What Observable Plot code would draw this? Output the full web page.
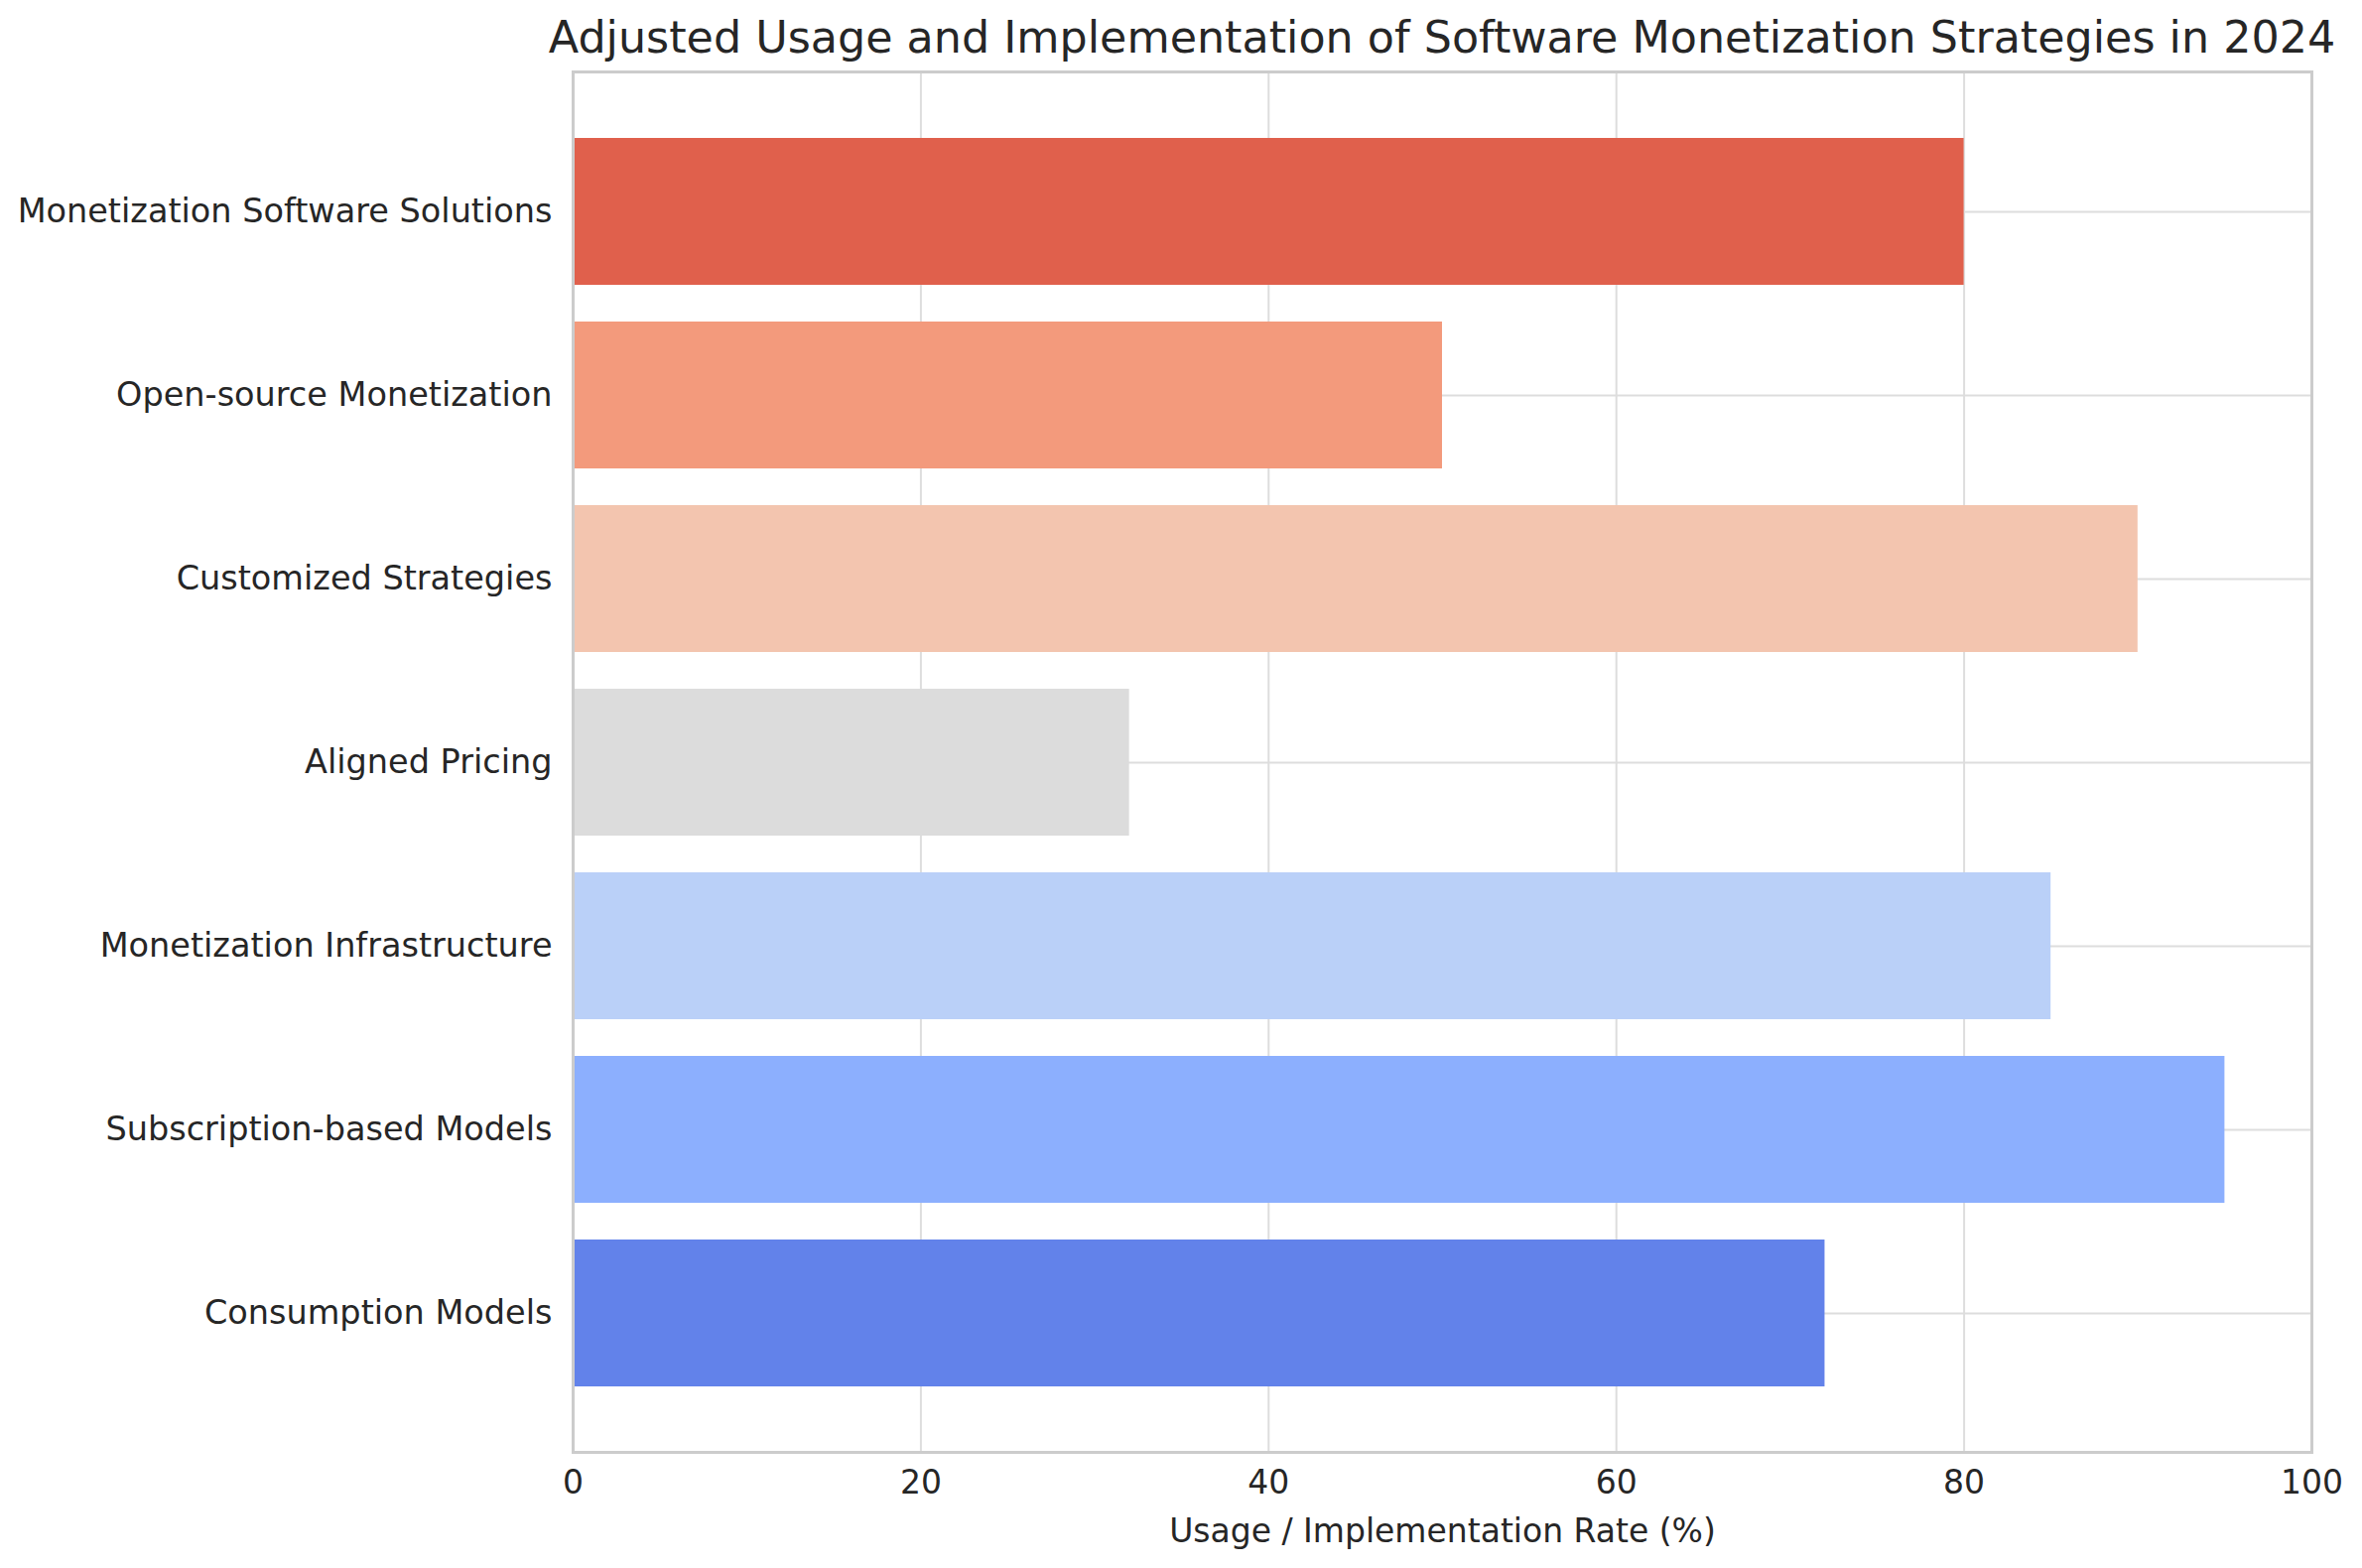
<!DOCTYPE html>
<html>
<head>
<meta charset="utf-8">
<script src="https://cdn.jsdelivr.net/npm/d3@7"></script>
<script src="https://cdn.jsdelivr.net/npm/@observablehq/plot@0.6"></script>
<style>
  html, body { margin: 0; padding: 0; background: #ffffff; }
  #wrap { position: relative; width: 2380px; height: 1580px; font-family: "DejaVu Sans", sans-serif; color: #262626; }
  #title { position: absolute; left: 453px; width: 2000px; top: 9px; text-align: center; font-size: 44.4px; line-height: 58px; white-space: nowrap; color: #262626; }
  #chart { position: absolute; left: 0; top: 0; }
</style>
</head>
<body>
<div id="wrap">
  <div id="chart"></div>
  <div id="title">Adjusted Usage and Implementation of Software Monetization Strategies in 2024</div>
</div>
<script>
const categories = [
  "Monetization Software Solutions",
  "Open-source Monetization",
  "Customized Strategies",
  "Aligned Pricing",
  "Monetization Infrastructure",
  "Subscription-based Models",
  "Consumption Models"
];
const values = [80, 50, 90, 32, 85, 95, 72];
const barColors = ["#e0604c", "#f39a7c", "#f3c5af", "#dcdcdc", "#bad0f8", "#8caffe", "#6282ea"];
const xTicks = [0, 20, 40, 60, 80, 100];
const xLabel = "Usage / Implementation Rate (%)";

const data = categories.map((c, i) => ({category: c, value: values[i]}));

const plot = Plot.plot({
  width: 2380,
  height: 1580,
  marginLeft: 577,
  marginRight: 51,
  marginTop: 72,
  marginBottom: 117,
  style: {fontFamily: "DejaVu Sans, sans-serif", fontSize: "33px", color: "#262626", background: "#ffffff"},
  x: {domain: [0, 100], ticks: xTicks, tickSize: 0, tickPadding: 18, label: null},
  y: {domain: categories, paddingInner: 0.2, paddingOuter: 0.34, tickSize: 0, tickPadding: 21, label: null},
  color: {domain: categories, range: barColors},
  marks: [
    Plot.gridX(xTicks, {stroke: "#dddddd", strokeOpacity: 1, strokeWidth: 2}),
    Plot.gridY(categories, {stroke: "#dddddd", strokeOpacity: 1, strokeWidth: 2}),
    Plot.barX(data, {y: "category", x: "value", fill: "category"}),
    Plot.axisX(xTicks, {tickSize: 0, tickPadding: 18, fontSize: 33, fill: "#262626"}),
    Plot.axisY(categories, {tickSize: 0, tickPadding: 21, fontSize: 33.5, fill: "#262626"}),
    Plot.text([xLabel], {frameAnchor: "bottom", dy: 90, fontSize: 33, fill: "#262626", text: d => d}),
    Plot.frame({stroke: "#cccccc", strokeWidth: 3})
  ]
});
document.getElementById("chart").appendChild(plot);
</script>
</body>
</html>
